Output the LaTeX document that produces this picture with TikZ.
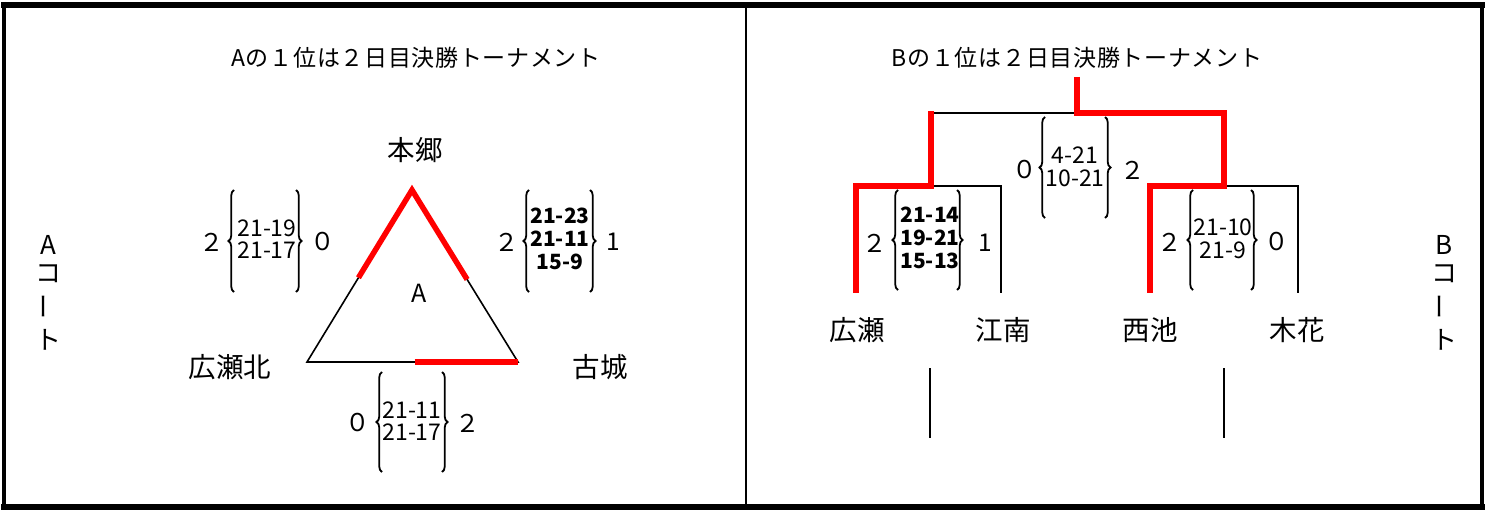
\documentclass[tikz,border=0pt]{standalone}
\usepackage{fontspec}
\setmainfont{Noto Sans CJK JP}
\usetikzlibrary{decorations.pathreplacing,calc}
\begin{document}
\begin{tikzpicture}[x=1pt,y=-1pt,
  redl/.style={draw=red, line width=5.5pt},
  blk/.style={draw=black, line width=1.6pt},
  brk/.style={draw=black, line width=2.8pt},
  lbr/.style={draw=black, decorate, decoration={brace, amplitude=5.5pt}, line width=1.8pt},
  ttl/.style={font=\fontsize{23}{25}\selectfont\addfontfeature{LetterSpace=3}, inner sep=0pt},
  nm/.style={font=\fontsize{27.5}{30}\selectfont, inner sep=0pt},
  scr/.style={font=\fontsize{23}{22.5}\selectfont, align=center, inner sep=0pt},
  bscr/.style={font=\fontsize{21}{23}\selectfont\bfseries, align=center, inner sep=0pt},
  sidenum/.style={font=\fontsize{24.5}{26}\selectfont, inner sep=0pt},
  crt/.style={font=\fontsize{26}{28}\selectfont, inner sep=0pt}]
\useasboundingbox (0,0) rectangle (1494,511);
% frame
\draw[line width=6.5pt] (1,5) -- (1485,5);
\draw[line width=6pt] (1,507) -- (1485,507);
\draw[line width=4.5pt] (4,2) -- (4,510);
\draw[line width=4.5pt] (1482,2) -- (1482,510);
\draw[line width=2pt] (746,5) -- (746,507);
% titles
\node[ttl] (ta) at (416,58) {Aの１位は２日目決勝トーナメント};
\node[ttl] (tb) at (1077,58) {Bの１位は２日目決勝トーナメント};
% court labels
\node[crt] (a1) at (48,245) {A};
\node[crt] (a2) at (48,274) {コ};
\node[crt, rotate=90] (a3) at (48,306) {ー};
\node[crt] (a4) at (48,340) {ト};
\node[crt] (b1) at (1444,245) {B};
\node[crt] (b2) at (1444,274) {コ};
\node[crt, rotate=90] (b3) at (1444,306) {ー};
\node[crt] (b4) at (1444,340) {ト};
% triangle
\coordinate (vt) at (412,190);
\coordinate (vl) at (307,362);
\coordinate (vr) at (518,362);
\draw[blk, line join=miter] (vt) -- (vl) -- (vr) -- cycle;
\draw[redl] ($(vt)!0.51!(vl)$) -- (vt) -- ($(vt)!0.52!(vr)$);
\draw[redl] ($(vl)!0.51!(vr)$) -- (vr);
\node[font=\fontsize{25}{27}\selectfont, inner sep=0pt] (la) at (419,293) {A};
\node[nm] (hongo) at (415,150) {本郷};
\node[nm] (hirosekita) at (230,367) {広瀬北};
\node[nm] (furuki) at (600,367) {古城};
% score: left
\node[sidenum] (s1a) at (212,242) {２};
\draw[lbr] (234,292) -- (234,190);
\node[scr] (s1) at (267,239) {21-19\\21-17};
\draw[lbr] (296,190) -- (296,292);
\node[sidenum] (s1b) at (323,242) {０};
% score: right
\node[sidenum] (s2a) at (507,242) {２};
\draw[lbr] (529,292) -- (529,190);
\node[bscr] (s2) at (560,239) {21-23\\21-11\\15-9};
\draw[lbr] (590,190) -- (590,292);
\node[sidenum] (s2b) at (613,242) {1};
% score: bottom
\node[sidenum] (s3a) at (358,423) {０};
\draw[lbr] (382,472) -- (382,372);
\node[scr] (s3) at (412,421) {21-11\\21-17};
\draw[lbr] (442,372) -- (442,472);
\node[sidenum] (s3b) at (468,423) {２};
% bracket
\coordinate (top) at (1077,77);
\coordinate (mid) at (1077,113);
\coordinate (ml) at (931,113);
\coordinate (mr) at (1224,113);
\coordinate (lm) at (931,186);
\coordinate (rm) at (1224,186);
\coordinate (l1) at (856,186);
\coordinate (l2) at (1001,186);
\coordinate (r1) at (1150,186);
\coordinate (r2) at (1298,186);
\node[nm] (hirose) at (857,330) {広瀬};
\node[nm] (konan) at (1003,330) {江南};
\node[nm] (nishi) at (1150,330) {西池};
\node[nm] (kibana) at (1297,330) {木花};
\draw[brk] (ml) -- (mid);
\draw[brk] (lm) -- (l2) -- (l2 |- 0,293);
\draw[brk] (rm) -- (r2) -- (r2 |- 0,293);
\draw[redl, line join=miter] (top) -- (mid) -- (mr) -- (rm) -- (r1) -- (r1 |- 0,293);
\draw[redl, line join=miter] (ml |- 0,111) -- (lm) -- (l1) -- (l1 |- 0,293);
\draw[line width=2pt] (930,368) -- (930,438);
\draw[line width=2pt] (1224,368) -- (1224,438);
% bracket scores
\node[sidenum] (s4a) at (1025,170) {０};
\draw[lbr] (1045,218) -- (1045,117);
\node[scr] (s4) at (1075,167) {4-21\\10-21};
\draw[lbr] (1105,117) -- (1105,218);
\node[sidenum] (s4b) at (1133,170) {２};
\node[sidenum] (s5a) at (875,243) {２};
\draw[lbr] (898,290) -- (898,190);
\node[bscr] (s5) at (930,238) {21-14\\19-21\\15-13};
\draw[lbr] (957,190) -- (957,290);
\node[sidenum] (s5b) at (985,243) {1};
\node[sidenum] (s6a) at (1170,242) {２};
\draw[lbr] (1193,290) -- (1193,190);
\node[scr] (s6) at (1223,239) {21-10\\21-9};
\draw[lbr] (1251,190) -- (1251,290);
\node[sidenum] (s6b) at (1277,242) {０};
\end{tikzpicture}
\end{document}
